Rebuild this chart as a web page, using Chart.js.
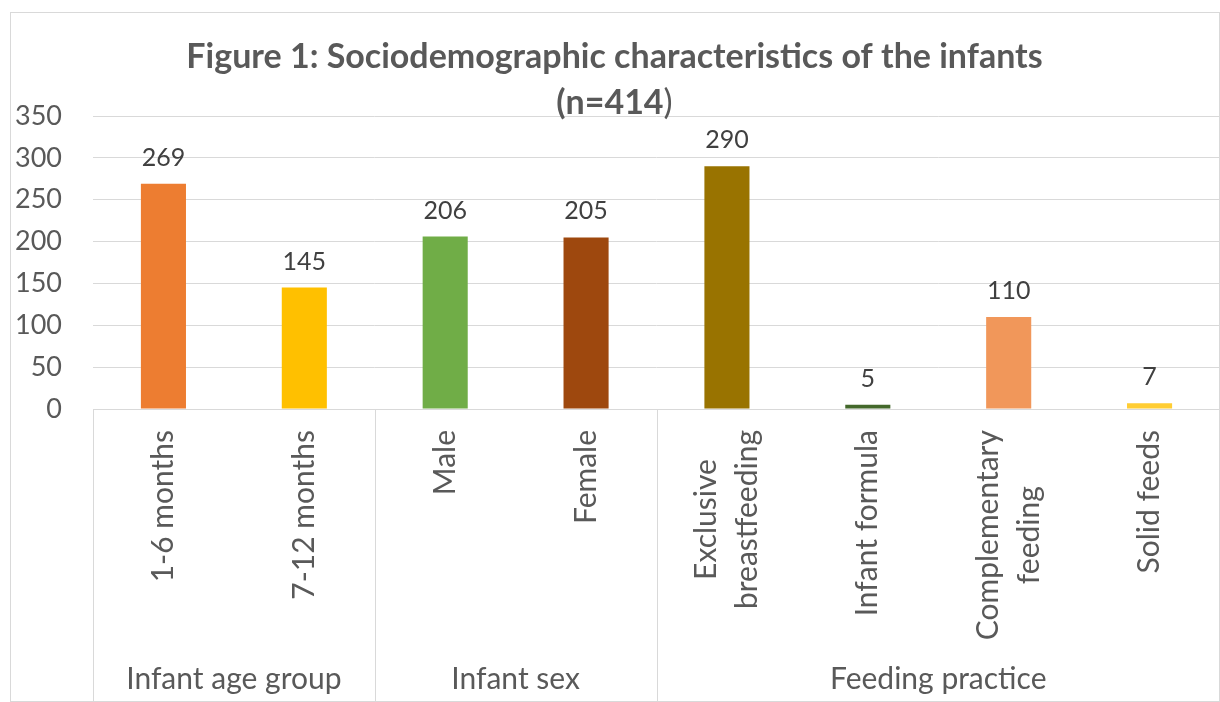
<!DOCTYPE html>
<html>
<head>
<meta charset="utf-8">
<script src="https://cdn.jsdelivr.net/npm/chart.js@4.4.1/dist/chart.umd.min.js"></script>
<style>
  html, body { margin: 0; padding: 0; background: #fff; }
</style>
</head>
<body>
<canvas id="bar-chart" width="1220" height="702"></canvas>
<script>
// Datos del grafico
const categories = [
  ['1-6 months'], ['7-12 months'], ['Male'], ['Female'],
  ['Exclusive', 'breastfeeding'], ['Infant formula'], ['Complementary', 'feeding'], ['Solid feeds']
];
const counts = [269, 145, 206, 205, 290, 5, 110, 7];
const barColors = ['#ED7D31', '#FFC000', '#70AD47', '#9E480E', '#997300', '#43682B', '#F1975A', '#FFCD33'];
const groups = ['Infant age group', 'Infant sex', 'Feeding practice'];
const groupSizes = [2, 2, 4];
const yTicks = [0, 50, 100, 150, 200, 250, 300, 350];

const FONT = 'Lato';
const GREY = '#595959';
const LINE = '#D9D9D9';

// Titulo, etiquetas y ejes agrupados
const extras = {
  id: 'extras',
  afterDraw(chart) {
    const ctx = chart.ctx;
    const area = chart.chartArea;
    const xs = chart.scales.x;
    const cx = 614.5;
    ctx.save();

    // borde exterior
    ctx.strokeStyle = LINE;
    ctx.lineWidth = 1;
    ctx.strokeRect(10.5, 12.5, 1209, 689);

    // titulo
    ctx.fillStyle = GREY;
    ctx.textBaseline = 'alphabetic';
    ctx.textAlign = 'center';
    ctx.font = 'bold 34px ' + FONT;
    ctx.fillText('Figure 1: Sociodemographic characteristics of the infants', cx, 68);
    const a = '(n=414', b = ')';
    const wa = ctx.measureText(a).width;
    ctx.font = '34px ' + FONT;
    const wb = ctx.measureText(b).width;
    ctx.textAlign = 'left';
    ctx.font = 'bold 34px ' + FONT;
    ctx.fillText(a, cx - (wa + wb) / 2, 114);
    ctx.font = '34px ' + FONT;
    ctx.fillText(b, cx - (wa + wb) / 2 + wa, 114);

    // valores sobre las barras
    ctx.fillStyle = '#404040';
    ctx.textAlign = 'center';
    ctx.font = '25px ' + FONT;
    chart.getDatasetMeta(0).data.forEach((bar, i) => {
      ctx.fillText(String(counts[i]), bar.x, bar.y - 18);
    });

    // etiquetas de categoria giradas
    ctx.fillStyle = GREY;
    ctx.font = '30px ' + FONT;
    ctx.textBaseline = 'middle';
    const lh = 41;
    categories.forEach((lines, i) => {
      const px = xs.getPixelForValue(i);
      const len = Math.max(...lines.map(t => ctx.measureText(t).width));
      ctx.save();
      ctx.translate(px, area.bottom + 21);
      ctx.rotate(-Math.PI / 2);
      lines.forEach((t, k) => {
        ctx.fillText(t, -len / 2, (k - (lines.length - 1) / 2) * lh);
      });
      ctx.restore();
    });

    // separadores y nombres de grupo
    const cw = (area.right - area.left) / categories.length;
    ctx.strokeStyle = LINE;
    ctx.textBaseline = 'alphabetic';
    let start = 0;
    groups.forEach((g, j) => {
      const x0 = area.left + start * cw;
      const x1 = x0 + groupSizes[j] * cw;
      ctx.beginPath();
      ctx.moveTo(Math.round(x0) + 0.5, area.bottom);
      ctx.lineTo(Math.round(x0) + 0.5, 702);
      ctx.stroke();
      ctx.fillText(g, (x0 + x1) / 2, 689);
      start += groupSizes[j];
    });
    ctx.restore();
  }
};

new Chart(document.getElementById('bar-chart'), {
  type: 'bar',
  data: {
    labels: categories,
    datasets: [{
      data: counts,
      backgroundColor: barColors,
      categoryPercentage: 1,
      barPercentage: 0.32
    }]
  },
  options: {
    responsive: false,
    animation: false,
    layout: { padding: { top: 116, left: 0, right: 0, bottom: 0 } },
    plugins: {
      legend: { display: false },
      tooltip: { enabled: false },
      title: { display: false }
    },
    scales: {
      x: {
        grid: { display: false },
        border: { color: LINE, width: 1 },
        ticks: { display: false },
        afterFit: s => { s.height = 293; }
      },
      y: {
        min: 0,
        max: 350,
        afterBuildTicks: s => { s.ticks = yTicks.map(v => ({ value: v })); },
        ticks: { padding: 31, color: GREY, font: { family: FONT, size: 27 } },
        grid: { color: LINE, drawTicks: false },
        border: { display: false },
        afterFit: s => { s.width = 93; }
      }
    }
  },
  plugins: [extras]
});
</script>
</body>
</html>
